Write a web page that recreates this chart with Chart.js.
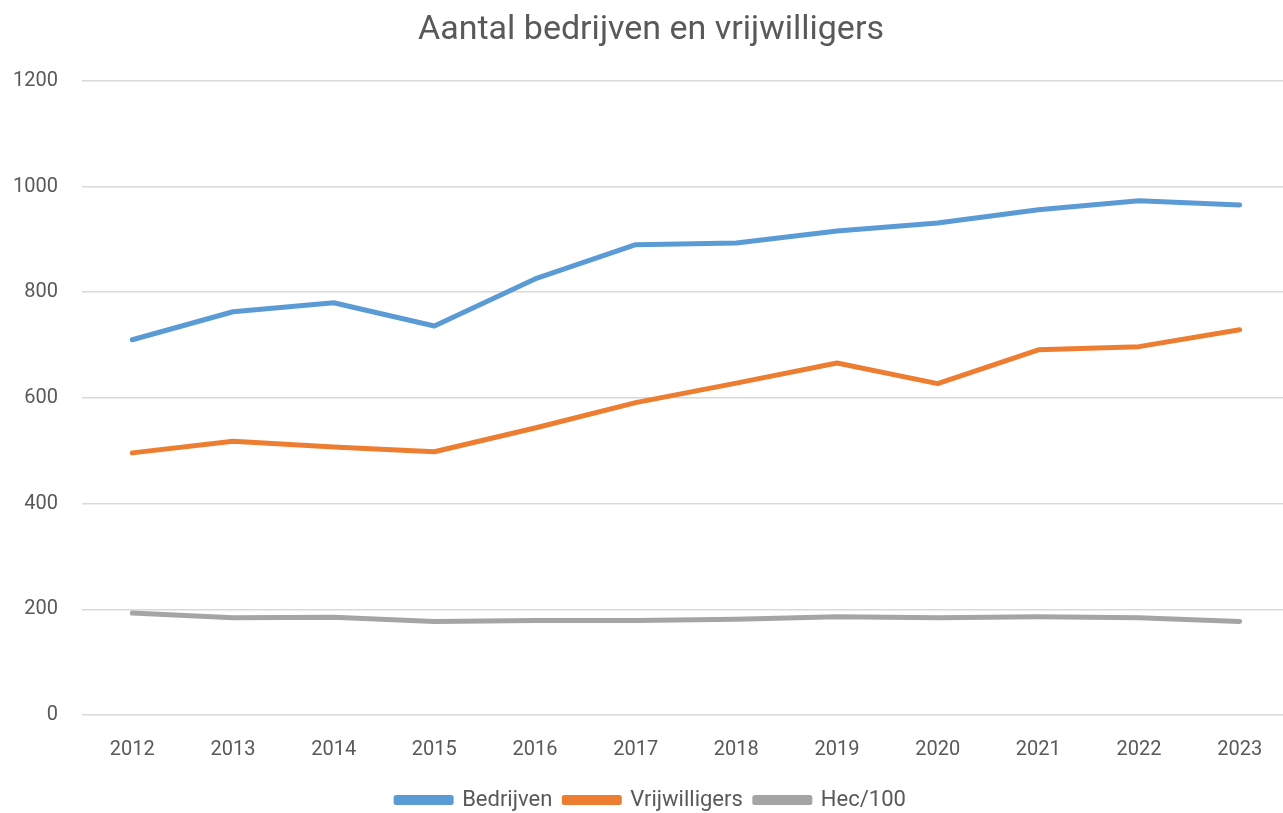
<!DOCTYPE html>
<html>
<head>
<meta charset="utf-8">
<script src="https://cdn.jsdelivr.net/npm/chart.js@4.4.0/dist/chart.umd.min.js"></script>
<style>
  html, body { margin: 0; padding: 0; background: #fff; overflow: hidden; }
  #wrap { width: 1290px; height: 813px; }
</style>
</head>
<body>
<div id="wrap"><canvas id="myChart"></canvas></div>
<script>
"use strict"

// DATA
const years = ['2012', '2013', '2014', '2015', '2016', '2017', '2018', '2019', '2020', '2021', '2022', '2023'];
const bedrijven = [710, 763, 780, 736, 825, 890, 893, 916, 931, 956, 973, 965];
const vrijwilligers = [496, 518, 507, 498, 543, 591, 628, 666, 627, 691, 697, 729];
const hec100 = [193, 184, 185, 177, 179, 179, 181, 186, 184, 186, 184, 177];

const textColor = '#595959';
const fontFamily = 'Roboto, "Liberation Sans", sans-serif';

function line(label, values, color) {
    return {
        label: label,
        data: values,
        borderColor: color,
        backgroundColor: color,
        borderWidth: 5,
        pointRadius: 0,
        tension: 0,
        borderCapStyle: 'round',
        borderJoinStyle: 'round'
    };
}

const config = {
    type: 'line',
    data: {
        labels: years,
        datasets: [
            line('Bedrijven', bedrijven, '#5b9bd5'),
            line('Vrijwilligers', vrijwilligers, '#ed7d31'),
            line('Hec/100', hec100, '#a5a5a5')
        ]
    },
    options: {
        responsive: true,
        maintainAspectRatio: false,
        animation: false,
        layout: { padding: { left: 12, right: 0, top: 6, bottom: -8 } },
        plugins: {
            title: {
                display: true,
                text: 'Aantal bedrijven en vrijwilligers',
                color: textColor,
                font: { family: fontFamily, size: 34, weight: 'normal' },
                padding: { top: 4, bottom: 30 }
            },
            legend: {
                position: 'bottom',
                labels: {
                    color: textColor,
                    font: { family: fontFamily, size: 22 },
                    boxWidth: 55,
                    boxHeight: 5,
                    padding: 12
                }
            },
            tooltip: { enabled: false }
        },
        scales: {
            x: {
                offset: true,
                grid: { display: false },
                border: { display: false },
                ticks: {
                    color: textColor,
                    font: { family: fontFamily, size: 20 },
                    padding: 15,
                    maxRotation: 0
                }
            },
            y: {
                min: 0,
                max: 1200,
                afterFit: (scale) => { scale.width = 70; },
                ticks: {
                    stepSize: 200,
                    color: textColor,
                    font: { family: fontFamily, size: 20 },
                    padding: 24,
                    callback: (v) => String(v)
                },
                border: { display: false },
                grid: { color: '#d9d9d9', lineWidth: 1.5, drawTicks: false }
            }
        }
    }
};

const myChart = new Chart(document.getElementById('myChart'), config);
</script>
</body>
</html>
